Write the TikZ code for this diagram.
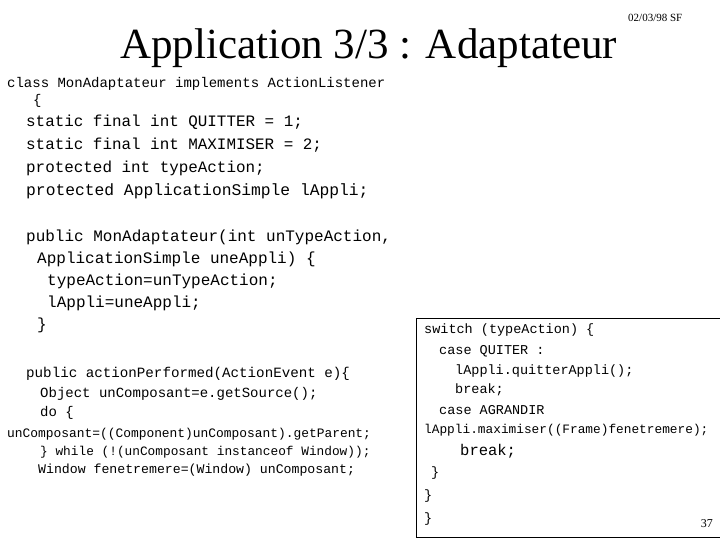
\documentclass[tikz,border=0pt]{standalone}
\usepackage{fontspec}
\setmainfont{Liberation Serif}
\setmonofont{Liberation Mono}
\begin{document}
\begin{tikzpicture}[x=1pt,y=-1pt,
  t/.style={anchor=west,inner sep=0pt,font=\ttfamily\fontsize{#1}{#1}\selectfont}]
\useasboundingbox (0,0) rectangle (720,540);
\fill[white] (0,0) rectangle (720,540);
\node[anchor=base west,inner sep=0pt,font=\fontsize{43}{43}\selectfont] (title) at (120,59) {Application 3/3 : Adaptateur};
\node[anchor=base west,inner sep=0pt,font=\fontsize{11}{11}\selectfont] (date) at (628,22) {02/03/98 SF};
\node[t=14] (l1) at (7,84) {class MonAdaptateur implements ActionListener};
\node[t=14] (l2) at (33,101) {\{};
\node[t=15.9] (l3) at (26,122) {static final int QUITTER = 1;};
\node[t=15.9] (l4) at (26,145) {static final int MAXIMISER = 2;};
\node[t=15.9] (l5) at (26,168) {protected int typeAction;};
\node[t=16.3] (l6) at (26,191) {protected ApplicationSimple lAppli;};
\node[t=16] (l7) at (26,237) {public MonAdaptateur(int unTypeAction,};
\node[t=16] (l8) at (37,259) {ApplicationSimple uneAppli) \{};
\node[t=16] (l9) at (47,281) {typeAction=unTypeAction;};
\node[t=16] (l10) at (47,303) {lAppli=uneAppli;};
\node[t=16] (l11) at (37,325) {\}};
\node[t=14.2] (m1) at (26,374) {public actionPerformed(ActionEvent e)\{};
\node[t=14] (m2) at (40,394) {Object unComposant=e.getSource();};
\node[t=14] (m3) at (40,413) {do \{};
\node[t=12.9] (m4) at (7,434) {unComposant=((Component)unComposant).getParent;};
\node[t=12.8] (m5) at (40,452) {\} while (!(unComposant instanceof Window));};
\node[t=13.2] (m6) at (38,470) {Window fenetremere=(Window) unComposant;};
\draw[line width=1pt] (416,318) rectangle (720,537);
\node[t=13.5] (r1) at (424,330) {switch (typeAction) \{};
\node[t=13.5] (r2) at (439,351) {case QUITER :};
\node[t=13.5] (r3) at (455,371) {lAppli.quitterAppli();};
\node[t=13.5] (r4) at (455,390) {break;};
\node[t=13.5] (r5) at (439,410) {case AGRANDIR};
\node[t=12.8] (r6) at (424,430) {lAppli.maximiser((Frame)fenetremere);};
\node[t=15.5] (r7) at (460,451) {break;};
\node[t=13.5] (r8) at (431,473) {\}};
\node[t=13.5] (r9) at (424,496) {\}};
\node[t=13.5] (r10) at (424,519) {\}};
\node[anchor=base east,inner sep=0pt,font=\fontsize{12}{12}\selectfont] (pg) at (713,527) {37};
\end{tikzpicture}
\end{document}
